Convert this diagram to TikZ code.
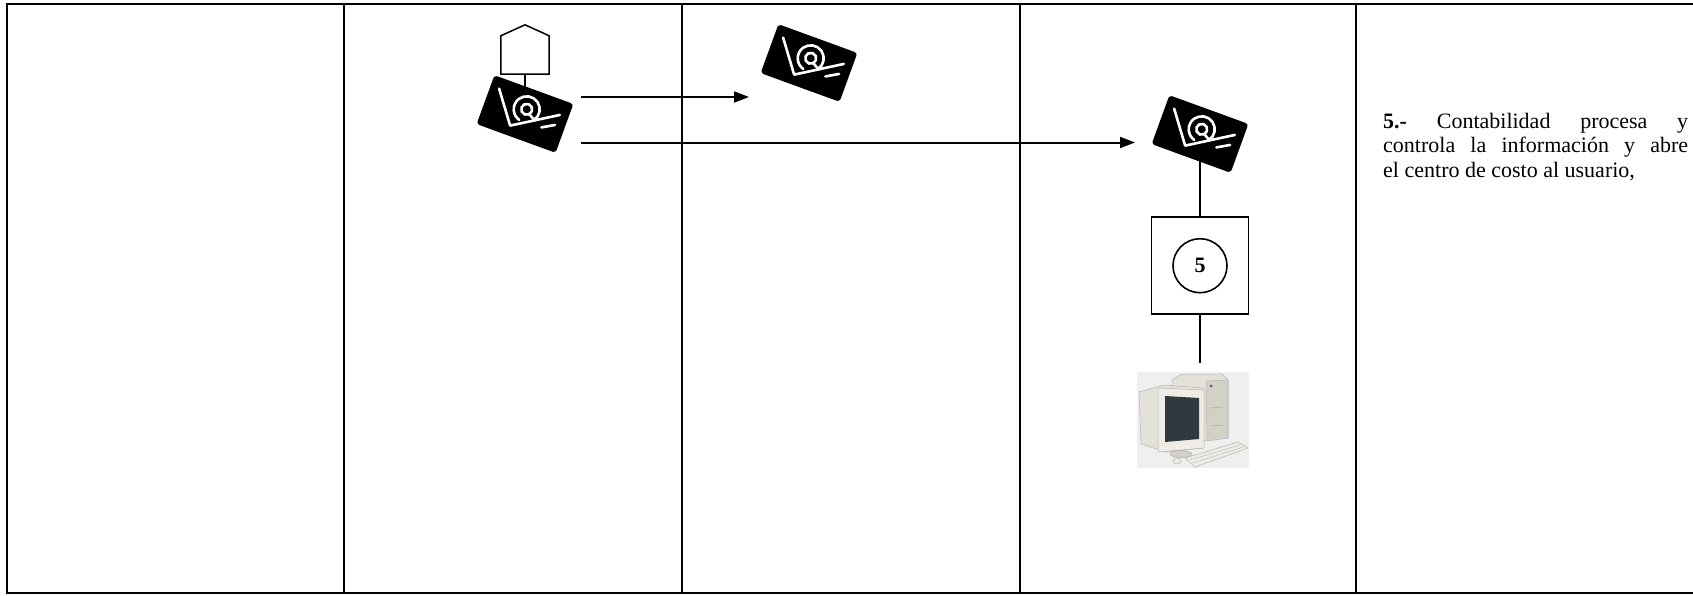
\documentclass[tikz,border=0pt]{standalone}
\usepackage{fontspec}
\setmainfont{Liberation Serif}
\usetikzlibrary{arrows.meta,backgrounds,calc}

\definecolor{caseA}{HTML}{E4E2D8}
\definecolor{caseB}{HTML}{D3D1C6}
\definecolor{caseC}{HTML}{EEECE4}
\definecolor{screen}{HTML}{2E3A40}
\definecolor{pcback}{HTML}{EFEFEF}

\tikzset{
  frameline/.style={line width=2pt, line cap=rect},
  wire/.style={line width=1.8pt},
  flow/.style={line width=2pt, -{Triangle[length=15pt,width=11pt]}},
  mailbox/.style={fill=black, rounded corners=3pt, minimum width=84pt,
    minimum height=52pt, inner sep=0pt, rotate=-20},
  mailmark/.style={white, line width=2.6pt, line cap=round, line join=round},
  stepbox/.style={draw, line width=1.8pt, minimum width=97pt,
    minimum height=97pt, inner sep=0pt},
  stepnum/.style={draw, circle, line width=1.6pt, minimum size=54pt,
    inner sep=0pt, font=\fontsize{22}{22}\selectfont\bfseries},
  housebox/.style={minimum width=48pt, minimum height=38pt, inner sep=0pt},
  note/.style={anchor=north west, text width=305pt, align=justify,
    inner sep=0pt, font=\fontsize{22}{24.3}\selectfont},
}

% white envelope flap and @ sign on a black mail node
\newcommand\mailglyph[1]{%
  \begin{scope}[shift={(#1.center)}, rotate=-20]
    \draw[mailmark] (-33,-15) -- (-10,16) -- (33,-11);
    \draw[mailmark] (20,7) -- (32,0);
    \draw[white, line width=2.6pt] (0,-5) circle[radius=5.5pt];
    \draw[mailmark] (0,-5) ++(-35:13pt) arc[start angle=-35, end angle=255, radius=13pt];
    \draw[mailmark] (0,-5) ++(-35:13pt) -- ++(150:7pt);
  \end{scope}}

\begin{document}
\begin{tikzpicture}[x=1pt, y=-1pt]
  \useasboundingbox (0,0) rectangle (1693,595);

  % table frame and lane separators
  \draw[frameline] (1693,4) -- (7,4) -- (7,593) -- (1693,593);
  \foreach \lx in {344,682,1020,1356}
    \draw[frameline] (\lx,4) -- (\lx,593);

  % nodes
  \node[housebox] (doc) at (525,55) {};
  \node[mailbox] (env1) at (525,114) {};
  \node[mailbox] (env2) at (809,63) {};
  \node[mailbox] (env3) at (1200,134) {};
  \mailglyph{env1}
  \mailglyph{env2}
  \mailglyph{env3}

  \node[stepbox] (box) at (1200,265.7) {};
  \node[stepnum] (num) at (box.center) {5};

  % document symbol: square with a pointed top
  \draw[line width=1.5pt, line join=miter]
    (doc.south west) -- (doc.north west) -- ($(doc.north)+(0,-11)$)
    -- (doc.north east) -- (doc.south east) -- cycle;

  % connectors drawn behind the envelopes
  \begin{pgfonlayer}{background}
    \draw[line width=1.5pt] (doc.south) -- (env1.center);
    \draw[wire] (env3.center) -- (box.north);
  \end{pgfonlayer}

  \coordinate (out1) at (581,97);
  \coordinate (in2) at (749,97);
  \coordinate (out2) at (581,142.5);
  \coordinate (in3) at (1135,142.5);
  \draw[flow] (out1) -- (in2);
  \draw[flow] (out2) -- (in3);

  % workstation
  \node[fill=pcback, minimum width=112pt, minimum height=96pt, inner sep=0pt] (pc) at (1193,420) {};
  \coordinate (pcwire) at (1200,363);
  \draw[wire] (box.south) -- (pcwire);

  \begin{scope}[draw=gray!60, line width=0.5pt]
    % tower
    \filldraw[fill=caseA] (1172,380) -- (1182,374) -- (1222,374) -- (1228,380)
      -- (1228,438) -- (1178,443) -- (1172,437) -- cycle;
    \filldraw[fill=caseB] (1206,381) -- (1228,380) -- (1228,438) -- (1207,441) -- cycle;
    \draw[gray!70] (1210,408) -- (1223,407);
    \draw[gray!70] (1210,426) -- (1223,425);
    \fill[blue!40!gray] (1211,386) circle[radius=1.5pt];
    % monitor
    \filldraw[fill=caseA] (1139,392) -- (1164,385) -- (1203,388) -- (1203,448)
      -- (1166,452) -- (1141,444) -- cycle;
    \filldraw[fill=caseC] (1158,388) -- (1204,390) -- (1204,448) -- (1158,452) -- cycle;
    \fill[screen] (1165,396) -- (1199,398) -- (1199,439) -- (1165,442) -- cycle;
    \filldraw[fill=caseB] (1181,454) ellipse[x radius=11pt, y radius=3.5pt];
    % keyboard and mouse
    \filldraw[fill=caseC] (1185,458) -- (1238,442) -- (1248,448) -- (1195,467) -- cycle;
    \draw[gray!50] (1190,460) -- (1240,445);
    \draw[gray!50] (1193,463) -- (1243,447);
    \filldraw[fill=caseC] (1177,461) ellipse[x radius=4pt, y radius=3pt];
  \end{scope}

  % description
  \node[note] (txt) at (1383,113)
    {\textbf{5.-} Contabilidad procesa y\linebreak controla la información y abre\linebreak el centro de costo al usuario,};
\end{tikzpicture}
\end{document}
